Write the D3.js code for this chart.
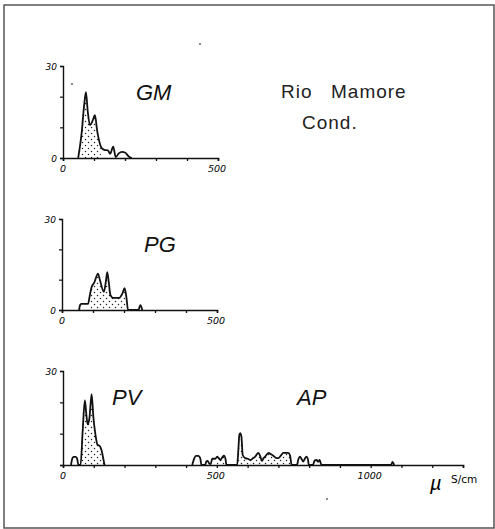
<!DOCTYPE html>
<html><head><meta charset="utf-8">
<script src="https://cdn.jsdelivr.net/npm/d3@7"></script>
<style>body{margin:0;background:#fff}svg{display:block}</style>
</head><body>
<script>
// ---- data (conductivity µS/cm vs frequency) ----
const gmX = [49, 60, 68, 74, 80, 87, 95, 103, 110, 125, 135, 145, 152, 162, 170, 180, 190, 200, 212, 222];
const gmY = [0, 8, 17, 21.5, 15, 10.7, 12, 14, 9, 3.2, 2.6, 2.5, 1.4, 3.7, 0.3, 1.5, 2, 1.8, 0.5, 0];
const pgX = [55, 58, 62, 84, 90, 96, 104, 116, 122, 135, 141, 146, 151, 156, 165, 185, 195, 202, 208, 213, 247, 250, 253, 256, 259];
const pgY = [0, 1.5, 2, 2, 5, 7.7, 9, 12, 10, 6, 9, 12.5, 9, 5, 4, 4, 5.5, 7.2, 4, 0, 0, 1, 1.6, 1, 0];
const pvX = [26, 30, 34, 42, 46, 50, 57, 64, 71, 76, 80, 86, 93, 99, 105, 112, 120, 127, 131, 135];
const pvY = [0, 2, 2.6, 2.6, 2, 0, 0, 11, 20.6, 16, 13, 15, 22.6, 15, 10, 6.5, 6, 4, 2, 0];
const apX = [420, 427, 432, 440, 446, 450, 462, 466, 470, 475, 480, 485, 495, 501, 506, 512, 518, 523, 528, 531, 566, 570, 573, 576, 580, 584, 592, 600, 609, 618, 625, 635, 642, 646, 652, 657, 668, 676, 684, 692, 700, 708, 716, 724, 732, 738, 743, 760, 765, 770, 776, 781, 786, 791, 796, 799, 812, 818, 824, 829, 834, 840, 1066, 1071, 1076];
const apY = [0, 2.2, 2.9, 2.9, 2.2, 0, 0, 1.2, 1.3, 0.5, 0.3, 2.0, 2.0, 2.7, 2.2, 1.6, 2.5, 3.0, 2.0, 0, 0, 5, 9.5, 10.2, 9, 3.2, 2.2, 2.0, 1.6, 2.2, 2.7, 3.9, 2.5, 1.3, 2.2, 2.7, 3.9, 3.4, 2.9, 2.3, 2.2, 3, 3.9, 3.9, 3.9, 3, 0, 0, 1.8, 2.7, 1.8, 1.1, 2.0, 2.7, 1.8, 0, 0, 1.4, 1.6, 1.0, 1.6, 0, 0, 1, 0];
const stipple = {GM: [55, 122], PG: [90, 213], PV: [57, 135], AP: [500, 745]};
const yTicks = [0, 10, 20, 30];
const yTickLabels = ["0", "", "", "30"];
const xTicksShort = [0, 100, 200, 300, 400, 500];
const xTicksLong = [0, 100, 200, 300, 400, 500, 600, 700, 800, 900, 1000, 1100, 1200, 1300];
const xLabelsShort = ["0", "500"];
const xLabelsLong = ["0", "500", "1000"];

const W = 495, H = 529;
const svg = d3.select("body").append("svg").attr("width", W).attr("height", H);
const defs = svg.append("defs");
const pat = defs.append("pattern").attr("id", "dots").attr("patternUnits", "userSpaceOnUse")
  .attr("width", 6).attr("height", 6);
pat.append("circle").attr("cx", 1.5).attr("cy", 1.5).attr("r", 0.75).attr("fill", "#222");
pat.append("circle").attr("cx", 4.5).attr("cy", 4.5).attr("r", 0.75).attr("fill", "#222");

// frame
svg.append("rect").attr("x", 4).attr("y", 5).attr("width", 490).attr("height", 523)
  .attr("fill", "none").attr("stroke", "#555").attr("stroke-width", 1.5);

const tickFont = "'DejaVu Sans', sans-serif";

function panel(opts) {
  const x = d3.scaleLinear().domain([0, opts.xmax]).range([opts.x0, opts.x1]);
  const y = d3.scaleLinear().domain([0, 30]).range([opts.y0, opts.y1]);
  const g = svg.append("g");
  // axes
  const ax = d3.axisBottom(x).tickValues(opts.xticks).tickSize(3).tickFormat("");
  const ga = g.append("g").attr("transform", `translate(0,${opts.y0})`).call(ax);
  ga.select(".domain").attr("stroke", "#111").attr("stroke-width", 1.6);
  ga.selectAll(".tick line").attr("stroke", "#111").attr("stroke-width", 1.3);
  const ay = d3.axisLeft(y).tickValues(yTicks).tickSize(3).tickFormat("");
  const gy = g.append("g").attr("transform", `translate(${opts.x0},0)`).call(ay);
  gy.select(".domain").attr("stroke", "#111").attr("stroke-width", 1.4);
  gy.selectAll(".tick line").attr("stroke", "#111").attr("stroke-width", 1.2);
  // y labels
  yTicks.forEach((t, i) => {
    const lab = (i === 0 && !opts.yZero) ? "" : yTickLabels[i];
    if (!lab) return;
    g.append("text").attr("x", opts.x0 - 6).attr("y", y(t) + 3.5).attr("text-anchor", "end")
      .attr("font-family", tickFont).attr("font-size", 9).attr("font-style", "italic").text(lab);
  });
  // x labels
  opts.xlabels.forEach(l => {
    g.append("text").attr("x", x(+l) + (l === "0" ? 0 : -1)).attr("y", opts.y0 + 14)
      .attr("text-anchor", "middle").attr("font-family", tickFont).attr("font-size", 9.5)
      .attr("font-style", "italic").text(l);
  });
  // series
  opts.series.forEach(s => {
    const pts = s.xs.map((v, i) => [v, s.ys[i]]);
    const clipId = "clip" + s.name;
    defs.append("clipPath").attr("id", clipId).append("rect")
      .attr("x", x(stipple[s.name][0])).attr("y", opts.y1 - 5)
      .attr("width", x(stipple[s.name][1]) - x(stipple[s.name][0]))
      .attr("height", opts.y0 - opts.y1 + 5);
    const area = d3.area().x(d => x(d[0])).y0(opts.y0).y1(d => y(d[1])).curve(d3.curveMonotoneX);
    g.append("path").datum(pts).attr("d", area).attr("fill", "url(#dots)")
      .attr("clip-path", `url(#${clipId})`);
    const line = d3.line().x(d => x(d[0])).y(d => y(d[1])).curve(d3.curveMonotoneX);
    g.append("path").datum(pts).attr("d", line).attr("fill", "none")
      .attr("stroke", "#111").attr("stroke-width", 1.8).attr("stroke-linejoin", "round");
  });
  return g;
}

panel({xmax: 500, x0: 63, x1: 218, y0: 158, y1: 66, xticks: xTicksShort, xlabels: xLabelsShort, yZero: true,
  series: [{name: "GM", xs: gmX, ys: gmY}]});
panel({xmax: 500, x0: 62, x1: 217, y0: 310, y1: 219, xticks: xTicksShort, xlabels: xLabelsShort, yZero: true,
  series: [{name: "PG", xs: pgX, ys: pgY}]});
panel({xmax: 1300, x0: 63, x1: 463, y0: 465, y1: 371, xticks: xTicksLong, xlabels: xLabelsLong, yZero: false,
  series: [{name: "PV", xs: pvX, ys: pvY}, {name: "AP", xs: apX, ys: apY}]});

// station labels
const lab = (t, xx, yy) => svg.append("text").attr("x", xx).attr("y", yy)
  .attr("font-family", "'Liberation Sans', Arial, sans-serif").attr("font-style", "italic")
  .attr("font-size", 22).attr("fill", "#111").text(t);
lab("GM", 136, 100);
lab("PG", 144, 252);
lab("PV", 112, 405);
lab("AP", 297, 405);

// title
const tf = "'Liberation Sans', Arial, sans-serif";
svg.append("text").attr("x", 281).attr("y", 98).attr("font-family", tf).attr("font-size", 19)
  .attr("letter-spacing", 1).attr("fill", "#222").text("Rio");
svg.append("text").attr("x", 331).attr("y", 98).attr("font-family", tf).attr("font-size", 19)
  .attr("letter-spacing", 1).attr("fill", "#222").text("Mamore");
svg.append("text").attr("x", 302).attr("y", 129).attr("font-family", tf).attr("font-size", 19)
  .attr("letter-spacing", 1).attr("fill", "#222").text("Cond.");

// unit
svg.append("text").attr("x", 430).attr("y", 490).attr("font-family", tf).attr("font-size", 20)
  .attr("font-style", "italic").text("µ");
svg.append("text").attr("x", 451).attr("y", 483).attr("font-family", tickFont).attr("font-size", 10.5)
  .text("S/cm");

// small specks
[[200, 44], [72, 84], [327, 499]].forEach(p => svg.append("circle").attr("cx", p[0]).attr("cy", p[1])
  .attr("r", 1).attr("fill", "#666"));
</script>
</body></html>
